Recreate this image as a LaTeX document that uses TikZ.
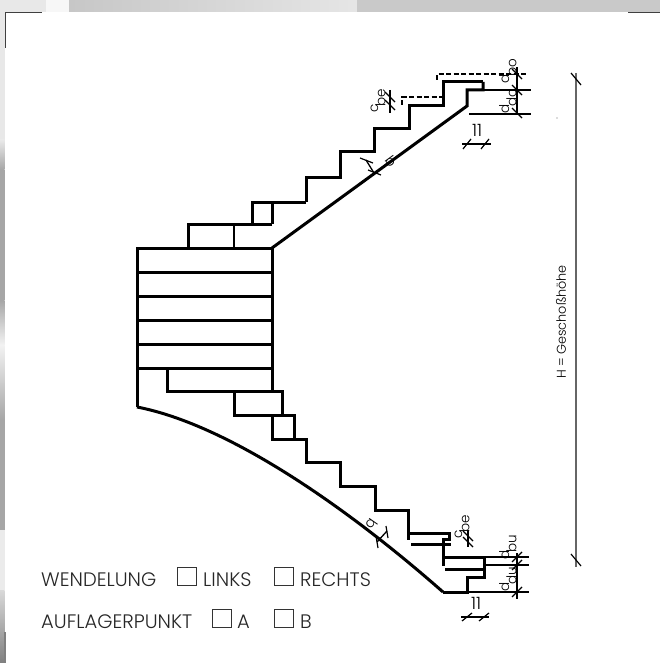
\documentclass[tikz,border=0pt]{standalone}
\usepackage{fontspec}
\setmainfont{Poppins}[UprightFont=* Light]
\newcommand{\subdim}[2]{#1\hspace{-.12em}\raisebox{-.55em}{#2}}
\tikzset{
  x=1pt,y=-1pt,
  heavy/.style={line width=3pt,black,line cap=butt,line join=miter},
  medium/.style={line width=3pt,black,line cap=butt,line join=miter},
  fine/.style={line width=1.3pt,black},
  tick/.style={line width=1.2pt,black},
  dash line/.style={line width=1.6pt,black,dash pattern=on 5pt off 2.5pt},
  label/.style={font=\fontsize{19.5}{22}\selectfont,text=black!85,inner sep=0pt,anchor=base west},
  dimlabel/.style={font=\fontsize{13.5}{15}\selectfont,rotate=90,inner sep=0pt,anchor=base west},
  chk/.style={draw=black!80,line width=.9pt,minimum width=19pt,minimum height=18pt,inner sep=0pt,anchor=north west}
}
\begin{document}
\begin{tikzpicture}
\useasboundingbox (0,0) rectangle (660,663);
% background texture strips
\fill[black!9] (0,0) rectangle (46,12);
\fill[black!3] (46,0) rectangle (69,12);
\shade[left color=black!22,right color=black!10] (69,0) rectangle (357,12);
\fill[black!21] (357,0) rectangle (660,12);
\fill[black!9] (0,12) rectangle (4.5,140);
\shade[top color=black!9,bottom color=black!35] (0,140) rectangle (4.5,170);
\fill[black!35] (0,170) rectangle (4.5,300);
\shade[top color=black!35,bottom color=black!5] (0,300) rectangle (4.5,345);
\shade[top color=black!5,bottom color=black!35] (0,345) rectangle (4.5,420);
\fill[black!35] (0,420) rectangle (4.5,530);
\fill[black!8] (0,530) rectangle (4.5,590);
\shade[top color=black!15,bottom color=black!50] (0,590) rectangle (4.5,663);
% crop marks
\draw[line width=1pt,black!75] (5,48) -- (5,12.5) -- (42,12.5);
\draw[line width=1pt,black!75] (628,12.5) -- (660,12.5);
\draw[line width=1.3pt,black!50] (5,632) -- (5,663);

% landing
\draw[medium] (137,407) -- (137,248) -- (272,248) -- (272,391);
\foreach \yy in {272,296,320,344,368} \draw[medium] (137,\yy) -- (272,\yy);
% upper flight
\draw[medium] (188,248) -- (188,224) -- (272,224);
\draw[medium,line width=2.2pt] (234,224) -- (234,248);
\draw[medium] (252,224) -- (252,202) -- (306,202);
\draw[medium] (272,224) -- (272,202);
\draw[heavy] (306,202) -- (306,177) -- (340,177) -- (340,152) -- (374,152) -- (374,129) -- (409,129) -- (409,106) -- (443,106) -- (443,82) -- (483,82);
\draw[heavy] (483,82) -- (483,90) -- (467,90) -- (467,106) -- (272,248);
% lower flight
\draw[medium] (167,368) -- (167,391) -- (282,391) -- (282,415) -- (234,415) -- (234,391);
\draw[medium] (282,415) -- (294,415) -- (294,439) -- (272,439) -- (272,415);
\draw[heavy] (294,439) -- (306,439) -- (306,462) -- (340,462) -- (340,486) -- (375,486) -- (375,510) -- (408.5,510) -- (408.5,540);
\draw[heavy] (408.5,533) -- (449,533) -- (449,539) -- (443,539) -- (443,566);
\draw[heavy] (411,544) -- (451,544);
\draw[heavy] (443,557) -- (484,557) -- (484,577) -- (467,577) -- (467,592) -- (443,592);
\draw[heavy] (445,569) -- (484,569);
\draw[heavy] (137,407) .. controls (230,425) and (350,510) .. (443,592);

% upper dashes
\draw[dash line] (402,105) -- (402,97) -- (443,97);
\draw[dash line] (437,80) -- (437,74) -- (527,74);
% thin extension lines
\draw[fine] (483,90) -- (531,90);
\draw[fine] (469,114) -- (531,114);
\draw[fine] (517,67) -- (517,113);
\foreach \yy in {74,90,113} \draw[tick] (512,\yy-5) -- (522,\yy+5);
\draw[fine] (484,557) -- (529,557);
\draw[fine] (484,565) -- (529,565);
\draw[fine] (467,592) -- (529,592);
\draw[fine] (517,553) -- (517,599);
\foreach \yy in {557,565,592} \draw[tick] (512,\yy+5) -- (522,\yy-5);
% c_be dims
\draw[fine] (390,90) -- (390,113);
\foreach \yy in {97,105} \draw[tick] (385,\yy-5) -- (395,\yy+5);
\draw[fine] (468,530) -- (468,547);
\foreach \yy in {536,542} \draw[tick] (463,\yy-5) -- (473,\yy+5);
% 11 dims
\draw[fine] (462,144) -- (491,144);
\foreach \xx in {467,485} \draw[tick] (\xx-4,149) -- (\xx+4,139);
\draw[fine] (461,617) -- (489,617);
\foreach \xx in {467,484} \draw[tick] (\xx-5,621) -- (\xx+5,613);
% b dims
\draw[fine] (374,173) -- (366,160);
\draw[tick] (368,170) -- (381,175);
\draw[tick] (360,158) -- (373,163);
\draw[fine] (377,542) -- (387,531);
\draw[tick] (376,536) -- (378,548);
\draw[tick] (386,526) -- (388,538);
% H dim
\draw[line width=1.3pt,black!60] (576,73) -- (576,567);
\draw[tick] (571,73) -- (581,85);
\draw[tick] (571,554) -- (581,566);
\fill[black!60] (557,118) circle (.6);

% dim labels
\node[dimlabel] (dbo) at (509,84) {\subdim{d}{bo}};
\node[dimlabel] (ddo) at (509,114) {\subdim{d}{do}};
\node[dimlabel] (dbu) at (509,560) {\subdim{d}{bu}};
\node[dimlabel] (ddu) at (509,592) {\subdim{d}{du}};
\node[dimlabel] (cbeo) at (378,113) {\subdim{c}{be}};
\node[dimlabel] (cbeu) at (462,539) {\subdim{c}{be}};
\node[font=\fontsize{17}{19}\selectfont,inner sep=0pt] (e1) at (477,130) {11};
\node[font=\fontsize{17}{19}\selectfont,inner sep=0pt] (e2) at (476,603) {11};
\node[font=\fontsize{14}{16}\selectfont,rotate=-54,inner sep=0pt] (bo) at (391,161) {b};
\node[font=\fontsize{14}{16}\selectfont,rotate=-125,inner sep=0pt] (bu) at (372,524) {b};
\node[font=\fontsize{12.8}{14}\selectfont,rotate=90,inner sep=0pt] (H) at (561,322) {H = Geschoßhöhe};

% bottom legend
\node[label] (w) at (41,586) {WENDELUNG};
\node[chk] (c1) at (177,567) {};
\node[label] (l) at (203,586) {LINKS};
\node[chk] (c2) at (274,567) {};
\node[label] (r) at (300,586) {RECHTS};
\node[label] (a) at (41,628) {AUFLAGERPUNKT};
\node[chk] (c3) at (212,609) {};
\node[label] (ka) at (237,628) {A};
\node[chk] (c4) at (274,609) {};
\node[label] (kb) at (300,628) {B};
\end{tikzpicture}
\end{document}
